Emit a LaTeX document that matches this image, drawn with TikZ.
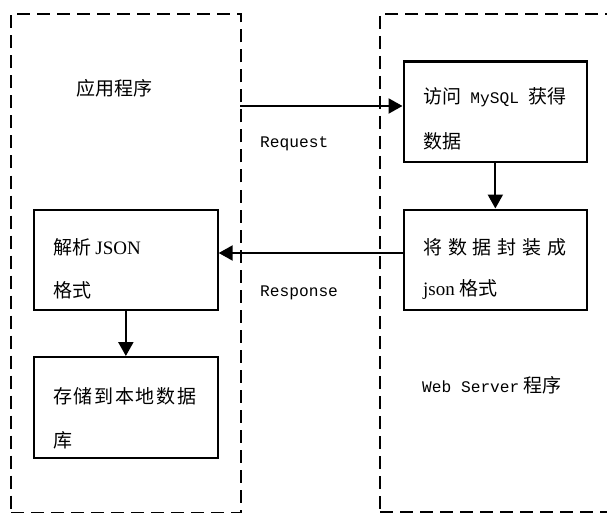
\documentclass[tikz,border=0pt]{standalone}
\usepackage{fontspec}
\newfontfamily\cjkfam{Noto Sans CJK SC}
\newfontfamily\monofam{Liberation Mono}
\newfontfamily\seriffam{Liberation Serif}
\newcommand\cjkfnt{\cjkfam\fontsize{19pt}{22pt}\selectfont}
\newcommand\monofnt{\monofam\fontsize{16.2pt}{20pt}\selectfont}
\newcommand\seriffnt{\seriffam\fontsize{19pt}{22pt}\selectfont}
\usetikzlibrary{arrows.meta}
\tikzset{
  procbox/.style={draw, line width=2.2pt, inner sep=0pt, anchor=north west,
    minimum width=183.5pt, minimum height=100.5pt},
  groupbox/.style={draw, line width=2pt, dash pattern=on 13pt off 7pt,
    inner sep=0pt, anchor=north west},
  flow/.style={line width=2.2pt, -{Triangle[length=14pt,width=15pt]}},
  lbl/.style={inner sep=0pt, anchor=west, font=\cjkfnt},
  lat/.style={lbl, font=\monofnt},
}
\begin{document}
\begin{tikzpicture}[x=1pt,y=-1pt]
\useasboundingbox (0,0) rectangle (607,513);
\fill[white] (0,0) rectangle (607,513);
\clip (0,0) rectangle (607,513);

% group boxes
\node[groupbox, minimum width=230pt, minimum height=498.5pt] (app) at (10,13) {};
\node[groupbox, minimum width=300pt, minimum height=498pt] (web) at (379,13) {};

% process boxes
\node[procbox] (b1) at (402.5,60.5) {};
\node[procbox] (b2) at (402.5,208.5) {};
\node[procbox] (b3) at (33,208.5) {};
\node[procbox] (b4) at (33,356) {};

% connectors
\coordinate (rq) at (240,106);
\coordinate (rs) at (300,253);
\draw[flow] (rq) -- (rq -| b1.west);
\draw[flow] (rs -| b2.west) -- (rs -| b3.east);
\draw[flow] (b1.south) -- (b2.north);
\draw[flow] (b3.south) -- (b4.north);

% labels
\node[lbl] (tapp) at (76,88.5) {应用程序};
\node[lat] (treq) at (260,143.5) {Request};
\node[lat] (tres) at (260,292.5) {Response};
\node[lbl] (tweb) at (422,385.5) {{\monofnt Web Server} 程序};

% box texts
\node[lbl] (b1a) at (423,97.5) {\makebox[143pt][s]{访问 {\monofnt MySQL} 获得}};
\node[lbl] (b1b) at (423,141.5) {数据};
\node[lbl] (b2a) at (423,247.5) {\makebox[143pt][s]{将\hfill 数\hfill 据\hfill 封\hfill 装\hfill 成}};
\node[lbl] (b2b) at (423,290) {{\seriffnt json} 格式};
\node[lbl] (b3a) at (53,247) {解析 {\seriffnt JSON}};
\node[lbl] (b3b) at (53,290) {格式};
\node[lbl] (b4a) at (53,396.5) {\makebox[143pt][s]{存\hfill 储\hfill 到\hfill 本\hfill 地\hfill 数\hfill 据}};
\node[lbl] (b4b) at (53,440) {库};
\end{tikzpicture}
\end{document}
